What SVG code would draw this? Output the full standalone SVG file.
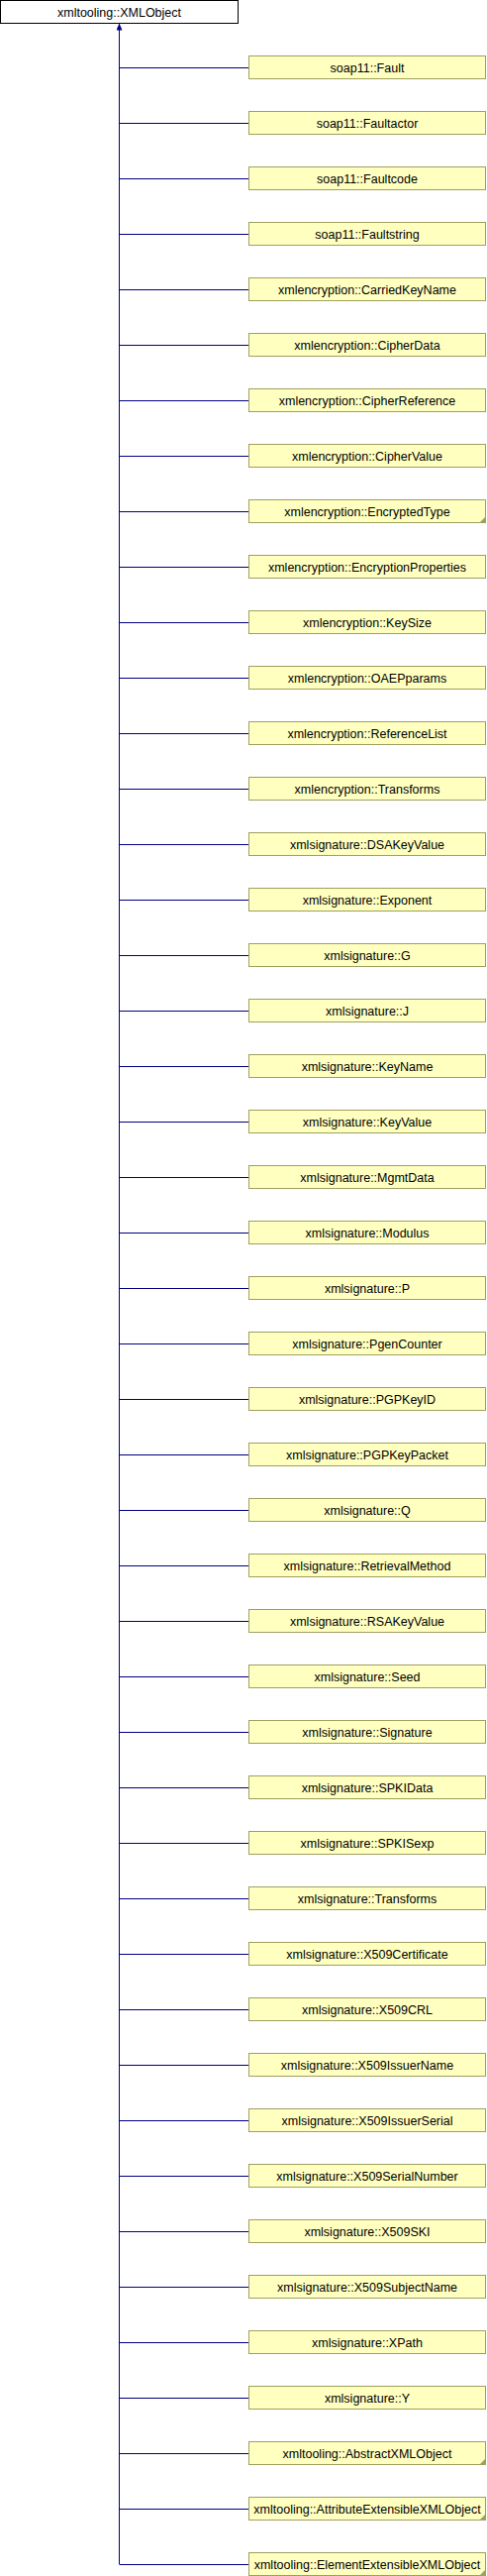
<svg xmlns="http://www.w3.org/2000/svg" width="492" height="2600" viewBox="0 0 492 2600">
<defs>
<style>
.node rect{fill:#FFFFC0;stroke:#9F9F60;stroke-width:1}
.root rect{fill:#FFFFFF;stroke:#000000;stroke-width:1}
text{font-family:"Liberation Sans",Arial,Helvetica,sans-serif;font-size:12.5px;fill:#000000;text-anchor:middle}
.corner{fill:#9F9F60;stroke:none}
.edge{fill:none;stroke:#000080;stroke-width:1}
</style>
<marker id="arrow" markerWidth="7" markerHeight="6" refX="7" refY="3" orient="auto" markerUnits="userSpaceOnUse">
<path d="M0,0 L7,3 L0,6 z" fill="#000080"/>
</marker>
</defs>
<rect x="0" y="0" width="492" height="2600" fill="#FFFFFF"/>
<g id="edges">
<path class="edge" d="M120.5,2588 V23.5" marker-end="url(#arrow)"/>
<path class="edge" d="M120.5,68.5H251M120.5,124.5H251M120.5,180.5H251M120.5,236.5H251M120.5,292.5H251M120.5,348.5H251M120.5,404.5H251M120.5,460.5H251M120.5,516.5H251M120.5,572.5H251M120.5,628.5H251M120.5,684.5H251M120.5,740.5H251M120.5,796.5H251M120.5,852.5H251M120.5,908.5H251M120.5,964.5H251M120.5,1020.5H251M120.5,1076.5H251M120.5,1132.5H251M120.5,1188.5H251M120.5,1244.5H251M120.5,1300.5H251M120.5,1356.5H251M120.5,1412.5H251M120.5,1468.5H251M120.5,1524.5H251M120.5,1580.5H251M120.5,1636.5H251M120.5,1692.5H251M120.5,1748.5H251M120.5,1804.5H251M120.5,1860.5H251M120.5,1916.5H251M120.5,1972.5H251M120.5,2028.5H251M120.5,2084.5H251M120.5,2140.5H251M120.5,2196.5H251M120.5,2252.5H251M120.5,2308.5H251M120.5,2364.5H251M120.5,2420.5H251M120.5,2476.5H251M120.5,2532.5H251M120.5,2588.5H251"/>
</g>
<g id="xmltooling_XMLObject" class="root"><rect x="0.5" y="0.5" width="240" height="23"/><text x="120.5" y="17">xmltooling::XMLObject</text></g>
<g id="n0" class="node" transform="translate(0,56)"><rect x="251.5" y="0.5" width="239" height="23"/><text x="371" y="17">soap11::Fault</text></g>
<g id="n1" class="node" transform="translate(0,112)"><rect x="251.5" y="0.5" width="239" height="23"/><text x="371" y="17">soap11::Faultactor</text></g>
<g id="n2" class="node" transform="translate(0,168)"><rect x="251.5" y="0.5" width="239" height="23"/><text x="371" y="17">soap11::Faultcode</text></g>
<g id="n3" class="node" transform="translate(0,224)"><rect x="251.5" y="0.5" width="239" height="23"/><text x="371" y="17">soap11::Faultstring</text></g>
<g id="n4" class="node" transform="translate(0,280)"><rect x="251.5" y="0.5" width="239" height="23"/><text x="371" y="17">xmlencryption::CarriedKeyName</text></g>
<g id="n5" class="node" transform="translate(0,336)"><rect x="251.5" y="0.5" width="239" height="23"/><text x="371" y="17">xmlencryption::CipherData</text></g>
<g id="n6" class="node" transform="translate(0,392)"><rect x="251.5" y="0.5" width="239" height="23"/><text x="371" y="17">xmlencryption::CipherReference</text></g>
<g id="n7" class="node" transform="translate(0,448)"><rect x="251.5" y="0.5" width="239" height="23"/><text x="371" y="17">xmlencryption::CipherValue</text></g>
<g id="n8" class="node" transform="translate(0,504)"><rect x="251.5" y="0.5" width="239" height="23"/><polygon class="corner" points="491,17 491,24 484,24"/><text x="371" y="17">xmlencryption::EncryptedType</text></g>
<g id="n9" class="node" transform="translate(0,560)"><rect x="251.5" y="0.5" width="239" height="23"/><text x="371" y="17">xmlencryption::EncryptionProperties</text></g>
<g id="n10" class="node" transform="translate(0,616)"><rect x="251.5" y="0.5" width="239" height="23"/><text x="371" y="17">xmlencryption::KeySize</text></g>
<g id="n11" class="node" transform="translate(0,672)"><rect x="251.5" y="0.5" width="239" height="23"/><text x="371" y="17">xmlencryption::OAEPparams</text></g>
<g id="n12" class="node" transform="translate(0,728)"><rect x="251.5" y="0.5" width="239" height="23"/><text x="371" y="17">xmlencryption::ReferenceList</text></g>
<g id="n13" class="node" transform="translate(0,784)"><rect x="251.5" y="0.5" width="239" height="23"/><text x="371" y="17">xmlencryption::Transforms</text></g>
<g id="n14" class="node" transform="translate(0,840)"><rect x="251.5" y="0.5" width="239" height="23"/><text x="371" y="17">xmlsignature::DSAKeyValue</text></g>
<g id="n15" class="node" transform="translate(0,896)"><rect x="251.5" y="0.5" width="239" height="23"/><text x="371" y="17">xmlsignature::Exponent</text></g>
<g id="n16" class="node" transform="translate(0,952)"><rect x="251.5" y="0.5" width="239" height="23"/><text x="371" y="17">xmlsignature::G</text></g>
<g id="n17" class="node" transform="translate(0,1008)"><rect x="251.5" y="0.5" width="239" height="23"/><text x="371" y="17">xmlsignature::J</text></g>
<g id="n18" class="node" transform="translate(0,1064)"><rect x="251.5" y="0.5" width="239" height="23"/><text x="371" y="17">xmlsignature::KeyName</text></g>
<g id="n19" class="node" transform="translate(0,1120)"><rect x="251.5" y="0.5" width="239" height="23"/><text x="371" y="17">xmlsignature::KeyValue</text></g>
<g id="n20" class="node" transform="translate(0,1176)"><rect x="251.5" y="0.5" width="239" height="23"/><text x="371" y="17">xmlsignature::MgmtData</text></g>
<g id="n21" class="node" transform="translate(0,1232)"><rect x="251.5" y="0.5" width="239" height="23"/><text x="371" y="17">xmlsignature::Modulus</text></g>
<g id="n22" class="node" transform="translate(0,1288)"><rect x="251.5" y="0.5" width="239" height="23"/><text x="371" y="17">xmlsignature::P</text></g>
<g id="n23" class="node" transform="translate(0,1344)"><rect x="251.5" y="0.5" width="239" height="23"/><text x="371" y="17">xmlsignature::PgenCounter</text></g>
<g id="n24" class="node" transform="translate(0,1400)"><rect x="251.5" y="0.5" width="239" height="23"/><text x="371" y="17">xmlsignature::PGPKeyID</text></g>
<g id="n25" class="node" transform="translate(0,1456)"><rect x="251.5" y="0.5" width="239" height="23"/><text x="371" y="17">xmlsignature::PGPKeyPacket</text></g>
<g id="n26" class="node" transform="translate(0,1512)"><rect x="251.5" y="0.5" width="239" height="23"/><text x="371" y="17">xmlsignature::Q</text></g>
<g id="n27" class="node" transform="translate(0,1568)"><rect x="251.5" y="0.5" width="239" height="23"/><text x="371" y="17">xmlsignature::RetrievalMethod</text></g>
<g id="n28" class="node" transform="translate(0,1624)"><rect x="251.5" y="0.5" width="239" height="23"/><text x="371" y="17">xmlsignature::RSAKeyValue</text></g>
<g id="n29" class="node" transform="translate(0,1680)"><rect x="251.5" y="0.5" width="239" height="23"/><text x="371" y="17">xmlsignature::Seed</text></g>
<g id="n30" class="node" transform="translate(0,1736)"><rect x="251.5" y="0.5" width="239" height="23"/><text x="371" y="17">xmlsignature::Signature</text></g>
<g id="n31" class="node" transform="translate(0,1792)"><rect x="251.5" y="0.5" width="239" height="23"/><text x="371" y="17">xmlsignature::SPKIData</text></g>
<g id="n32" class="node" transform="translate(0,1848)"><rect x="251.5" y="0.5" width="239" height="23"/><text x="371" y="17">xmlsignature::SPKISexp</text></g>
<g id="n33" class="node" transform="translate(0,1904)"><rect x="251.5" y="0.5" width="239" height="23"/><text x="371" y="17">xmlsignature::Transforms</text></g>
<g id="n34" class="node" transform="translate(0,1960)"><rect x="251.5" y="0.5" width="239" height="23"/><text x="371" y="17">xmlsignature::X509Certificate</text></g>
<g id="n35" class="node" transform="translate(0,2016)"><rect x="251.5" y="0.5" width="239" height="23"/><text x="371" y="17">xmlsignature::X509CRL</text></g>
<g id="n36" class="node" transform="translate(0,2072)"><rect x="251.5" y="0.5" width="239" height="23"/><text x="371" y="17">xmlsignature::X509IssuerName</text></g>
<g id="n37" class="node" transform="translate(0,2128)"><rect x="251.5" y="0.5" width="239" height="23"/><text x="371" y="17">xmlsignature::X509IssuerSerial</text></g>
<g id="n38" class="node" transform="translate(0,2184)"><rect x="251.5" y="0.5" width="239" height="23"/><text x="371" y="17">xmlsignature::X509SerialNumber</text></g>
<g id="n39" class="node" transform="translate(0,2240)"><rect x="251.5" y="0.5" width="239" height="23"/><text x="371" y="17">xmlsignature::X509SKI</text></g>
<g id="n40" class="node" transform="translate(0,2296)"><rect x="251.5" y="0.5" width="239" height="23"/><text x="371" y="17">xmlsignature::X509SubjectName</text></g>
<g id="n41" class="node" transform="translate(0,2352)"><rect x="251.5" y="0.5" width="239" height="23"/><text x="371" y="17">xmlsignature::XPath</text></g>
<g id="n42" class="node" transform="translate(0,2408)"><rect x="251.5" y="0.5" width="239" height="23"/><text x="371" y="17">xmlsignature::Y</text></g>
<g id="n43" class="node" transform="translate(0,2464)"><rect x="251.5" y="0.5" width="239" height="23"/><polygon class="corner" points="491,17 491,24 484,24"/><text x="371" y="17">xmltooling::AbstractXMLObject</text></g>
<g id="n44" class="node" transform="translate(0,2520)"><rect x="251.5" y="0.5" width="239" height="23"/><polygon class="corner" points="491,17 491,24 484,24"/><text x="371" y="17">xmltooling::AttributeExtensibleXMLObject</text></g>
<g id="n45" class="node" transform="translate(0,2576)"><rect x="251.5" y="0.5" width="239" height="23"/><polygon class="corner" points="491,17 491,24 484,24"/><text x="371" y="17">xmltooling::ElementExtensibleXMLObject</text></g>
</svg>
